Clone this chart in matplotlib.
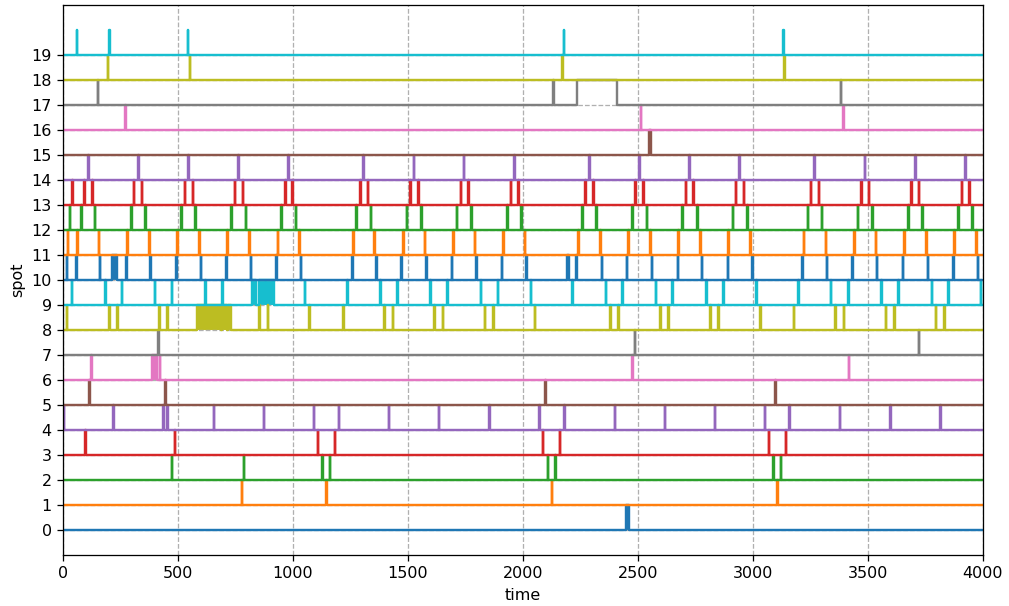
#!/usr/bin/env python3
import matplotlib
matplotlib.use("Agg")
import matplotlib.pyplot as plt

# bezetting per spot: getal = korte piek, tuple = (start, eind)
spot_00 = []
spot_01 = [777, 1145, 2126, 3106]
spot_02 = [473, 787, 1127, 1161, 2107, 2141, 3088, 3122]
spot_03 = [96, 486, 1107, 1181, 2087, 2161, 3068, 3142]
spot_04 = [4, 219, 436, 454, 655, 873, 1091, 1199, 1417, 1635, 1853, 2071, 2180,
           2399, 2616, 2833, 3052, 3158, 3378, 3596, 3814]
spot_05 = [114, 445, 2096, 3097]
spot_06 = [123, 422, 2475, 3416]
spot_07 = [415, 2487, 3720]
spot_08 = [16, 201, 236, 418, 453, 853, 891, 1071, 1219, 1397, 1435, 1614, 1652, 1835,
           1870, 2052, 2380, 2414, 2597, 2632, 2814, 2849, 3032, 3177, 3357, 3394, 3577,
           3614, 3794, 3832]
spot_09 = [39, 183, 255, 398, 473, 618, 692, 1052, 1236, 1380, 1453, 1597, 1671, 1817,
           1890, 2035, 2214, 2360, 2432, 2577, 2649, 2797, 2871, 3014, 3197, 3339, 3414,
           3557, 3632, 3777, 3849, 3991]
spot_10 = [16, 57, 161, 275, 380, 492, 600, 710, 817, 927, 1033, 1257, 1362, 1470, 1580,
           1690, 1797, 1907, 2014, 2232, 2342, 2452, 2560, 2672, 2777, 2890, 2997, 3214,
           3322, 3432, 3539, 3652, 3759, 3870, 3977]
spot_11 = [22, 62, 155, 280, 375, 497, 593, 714, 810, 935, 1027, 1262, 1353, 1480, 1574,
           1697, 1791, 1914, 2009, 2240, 2336, 2458, 2553, 2675, 2771, 2893, 2988, 3220,
           3316, 3440, 3533, 3658, 3753, 3875, 3971]
spot_12 = [30, 80, 138, 297, 358, 514, 575, 732, 794, 949, 1013, 1275, 1339, 1494, 1558,
           1713, 1775, 1932, 1993, 2258, 2319, 2475, 2539, 2693, 2757, 2912, 2975, 3238,
           3300, 3455, 3519, 3675, 3736, 3893, 3953]
spot_13 = [40, 93, 127, 309, 343, 529, 564, 748, 781, 967, 997, 1293, 1326, 1510, 1545,
           1729, 1762, 1947, 1980, 2271, 2306, 2488, 2523, 2707, 2741, 2926, 2960, 3252,
           3286, 3470, 3503, 3688, 3722, 3907, 3940]
spot_14 = [110, 327, 545, 762, 980, 1306, 1525, 1743, 1962, 2288, 2506, 2723, 2941, 3267,
           3487, 3706, 3923]
spot_15 = []
spot_16 = [271, 2513, 3393]
spot_17 = [151, 2132, (2233, 2410), 3381]
spot_18 = [194, 552, 2171, 3136]
spot_19 = [59, 202, 543, 2178, 3132]

# dichte reeksen pieken, getekend als gevuld blok: (spot, start, eind)
bursts = [(0, 2448, 2460), (6, 386, 410), (8, 584, 685), (8, 690, 712), (8, 716, 729),
          (9, 824, 840), (9, 852, 918), (10, 212, 233), (10, 2190, 2198),
          (15, 2550, 2556)]

spots = [spot_00, spot_01, spot_02, spot_03, spot_04, spot_05, spot_06, spot_07,
         spot_08, spot_09, spot_10, spot_11, spot_12, spot_13, spot_14, spot_15,
         spot_16, spot_17, spot_18, spot_19]

t_end = 4000
spike = 2


def step_trace(events, level):
    """
    Bouwt x/y punten voor een spot: basis op level, bezet op level+1.
    """
    intervals = []
    for ev in events:
        if isinstance(ev, tuple):
            intervals.append(ev)
        else:
            intervals.append((ev, ev + spike))
    intervals += [(a, b) for s, a, b in bursts if s == level]
    intervals.sort()

    xs, ys = [0], [level]
    for start, stop in intervals:
        xs += [start, start, stop, stop]
        ys += [level, level + 1, level + 1, level]
    xs.append(t_end)
    ys.append(level)
    return xs, ys


dpi = 115
fig, ax = plt.subplots(figsize=(1009 / dpi, 606 / dpi), dpi=dpi)
fig.subplots_adjust(left=0.0624, right=0.9742, bottom=0.0842, top=0.9917)

for i, events in enumerate(spots):
    xs, ys = step_trace(events, i)
    line, = ax.plot(xs, ys, lw=1.5)
    for s, a, b in bursts:
        if s == i:
            ax.fill_between([a, b], s, s + 1, color=line.get_color(), lw=0)

ax.set_xlim(0, t_end)
ax.set_ylim(-1, 21)
ax.set_yticks(range(len(spots)))
ax.set_xlabel('time')
ax.set_ylabel('spot')
ax.grid(True, linestyle='--')

plt.savefig('out.png')
plt.close()
